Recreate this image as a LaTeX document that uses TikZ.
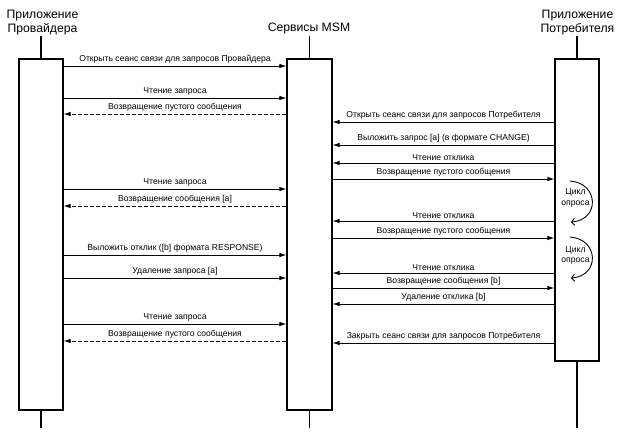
\documentclass[tikz,border=0pt]{standalone}
\usepackage{fontspec}
\setmainfont{Liberation Sans}
\usetikzlibrary{arrows.meta}
\begin{document}
\begin{tikzpicture}[x=1pt,y=-1pt,
 lbox/.style={draw, line width=1.1pt, minimum width=44pt, inner sep=0pt, fill=white},
 life/.style={line width=1.1pt},
 head/.style={font=\fontsize{12.2}{14}\selectfont, align=center, inner sep=0pt, anchor=south},
 msg/.style={line width=0.9pt, -{Latex[length=7pt,width=4.5pt]}},
 ret/.style={msg, dash pattern=on 4pt off 2pt},
 lbl/.style={font=\fontsize{8.6}{9}\selectfont, inner sep=0pt, above=2pt},
 cyc/.style={line width=0.9pt, -{Straight Barb[length=3pt,width=7pt]}},
 cyctext/.style={font=\fontsize{8.6}{10.5}\selectfont, align=center, inner sep=0pt},
]
\useasboundingbox (0,0) rectangle (620,432);
% headers
\node[head] (ph) at (42.5,35.5) {Приложение\\Провайдера};
\node[head] (mh) at (309,34) {Сервисы MSM};
\node[head] (ch) at (577.5,35.5) {Приложение\\Потребителя};
% activation boxes
\node[lbox, minimum height=351pt] (pbox) at (41,234.5) {};
\node[lbox, minimum width=45pt, minimum height=351pt] (mbox) at (309.5,234.5) {};
\node[lbox, minimum height=302pt] (cbox) at (577,210) {};
% lifelines
\draw[life] (pbox.north) -- ++(0,-22);
\draw[life] (mbox.north) -- ++(0,-22);
\draw[life] (cbox.north) -- ++(0,-22);
\draw[life] (pbox.south) -- ++(0,17);
\draw[life] (mbox.south) -- ++(0,17);
\draw[life] (cbox.south) -- ++(0,66);
% provider <-> MSM
\draw[msg] (pbox.east |- 0,66) -- node[lbl]{Открыть сеанс связи для запросов Провайдера} (mbox.west |- 0,66);
\draw[msg] (pbox.east |- 0,98) -- node[lbl]{Чтение запроса} (mbox.west |- 0,98);
\draw[ret] (mbox.west |- 0,114) -- node[lbl]{Возвращение пустого сообщения} (pbox.east |- 0,114);
\draw[msg] (pbox.east |- 0,189) -- node[lbl]{Чтение запроса} (mbox.west |- 0,189);
\draw[ret] (mbox.west |- 0,206) -- node[lbl]{Возвращение сообщения [a]} (pbox.east |- 0,206);
\draw[msg] (pbox.east |- 0,255) -- node[lbl]{Выложить отклик ([b] формата RESPONSE)} (mbox.west |- 0,255);
\draw[msg] (pbox.east |- 0,278) -- node[lbl]{Удаление запроса [a]} (mbox.west |- 0,278);
\draw[msg] (pbox.east |- 0,324) -- node[lbl]{Чтение запроса} (mbox.west |- 0,324);
\draw[ret] (mbox.west |- 0,341) -- node[lbl]{Возвращение пустого сообщения} (pbox.east |- 0,341);
% consumer <-> MSM
\draw[msg] (cbox.west |- 0,122) -- node[lbl]{Открыть сеанс связи для запросов Потребителя} (mbox.east |- 0,122);
\draw[msg] (cbox.west |- 0,145) -- node[lbl]{Выложить запрос [a] (в формате CHANGE)} (mbox.east |- 0,145);
\draw[msg] (cbox.west |- 0,163) -- node[lbl]{Чтение отклика} (mbox.east |- 0,163);
\draw[msg] (mbox.east |- 0,179) -- node[lbl]{Возвращение пустого сообщения} (cbox.west |- 0,179);
\draw[msg] (cbox.west |- 0,221) -- node[lbl]{Чтение отклика} (mbox.east |- 0,221);
\draw[msg] (mbox.east |- 0,238) -- node[lbl]{Возвращение пустого сообщения} (cbox.west |- 0,238);
\draw[msg] (cbox.west |- 0,273) -- node[lbl]{Чтение отклика} (mbox.east |- 0,273);
\draw[msg] (mbox.east |- 0,288) -- node[lbl]{Возвращение сообщения [b]} (cbox.west |- 0,288);
\draw[msg] (cbox.west |- 0,304) -- node[lbl]{Удаление отклика [b]} (mbox.east |- 0,304);
\draw[msg] (cbox.west |- 0,343) -- node[lbl]{Закрыть сеанс связи для запросов Потребителя} (mbox.east |- 0,343);
% polling cycles
\draw[cyc] (570,181) .. controls (599,183) and (600,220) .. (571,222);
\node[cyctext] (cy1) at (575.5,198) {Цикл\\опроса};
\draw[cyc] (570,237) .. controls (599,239) and (600,276) .. (571,278);
\node[cyctext] (cy2) at (575.5,255.5) {Цикл\\опроса};
\end{tikzpicture}
\end{document}
